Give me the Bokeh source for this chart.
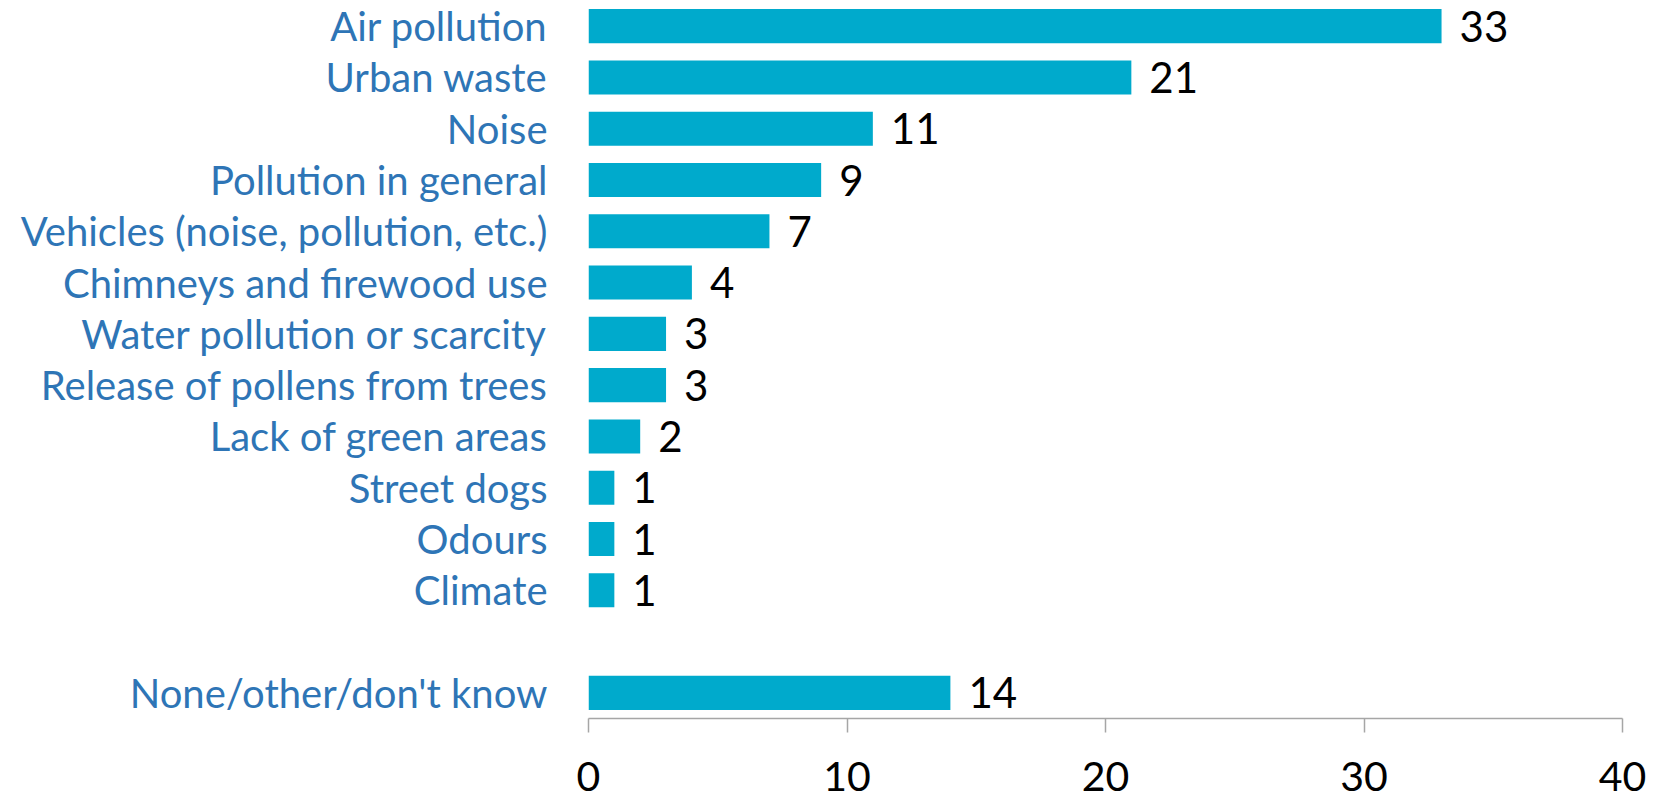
from bokeh.plotting import figure
from bokeh.models import Range1d, FactorRange, ColumnDataSource, FixedTicker
from bokeh.core.properties import value
from bokeh.embed import file_html
from bokeh.resources import INLINE

categories = [
    "Air pollution",
    "Urban waste",
    "Noise",
    "Pollution in general",
    "Vehicles (noise, pollution, etc.)",
    "Chimneys and firewood use",
    "Water pollution or scarcity",
    "Release of pollens from trees",
    "Lack of green areas",
    "Street dogs",
    "Odours",
    "Climate",
    "None/other/don't know",
]
values = [33, 21, 11, 9, 7, 4, 3, 3, 2, 1, 1, 1, 14]
x_ticks = [0, 10, 20, 30, 40]

BLANK = " "
factors = categories[:-1] + [BLANK] + categories[-1:]

FONT = "Lato"
BAR = "#00AACC"
LABEL_BLUE = "#2E75B6"

src = ColumnDataSource(dict(cat=categories, val=values, txt=[str(v) for v in values]))

p = figure(
    width=1646, height=803,
    y_range=FactorRange(factors=list(reversed(factors)), range_padding=0),
    x_range=Range1d(0, 40),
    output_backend="svg", toolbar_location=None,
    min_border_left=588, min_border_right=24, min_border_top=0, min_border_bottom=85,
)
p.hbar(y="cat", right="val", left=0, height=0.665, source=src,
       fill_color=BAR, line_color=None)
p.text(x="val", y="cat", text="txt", source=src, x_offset=18,
       text_baseline="middle", text_align="left",
       text_font=value(FONT), text_font_size="42px", text_color="black")

p.outline_line_color = None
p.xgrid.grid_line_color = None
p.ygrid.grid_line_color = None
p.background_fill_color = "white"
p.border_fill_color = "white"

xa = p.xaxis[0]
xa.ticker = FixedTicker(ticks=x_ticks)
xa.axis_line_color = "#A6A6A6"
xa.axis_line_width = 1.5
xa.major_tick_line_color = "#A6A6A6"
xa.major_tick_line_width = 1.5
xa.major_tick_in = 0
xa.major_tick_out = 14
xa.minor_tick_line_color = None
xa.major_label_text_font = FONT
xa.major_label_text_font_size = "41px"
xa.major_label_text_color = "black"
xa.major_label_standoff = 29

ya = p.yaxis[0]
ya.axis_line_color = None
ya.major_tick_line_color = None
ya.major_tick_in = 0
ya.major_tick_out = 0
ya.minor_tick_line_color = None
ya.major_label_text_font = FONT
ya.major_label_text_font_size = "40px"
ya.major_label_text_color = LABEL_BLUE
ya.major_label_standoff = 41

open("out.html", "w").write(file_html(p, INLINE))
